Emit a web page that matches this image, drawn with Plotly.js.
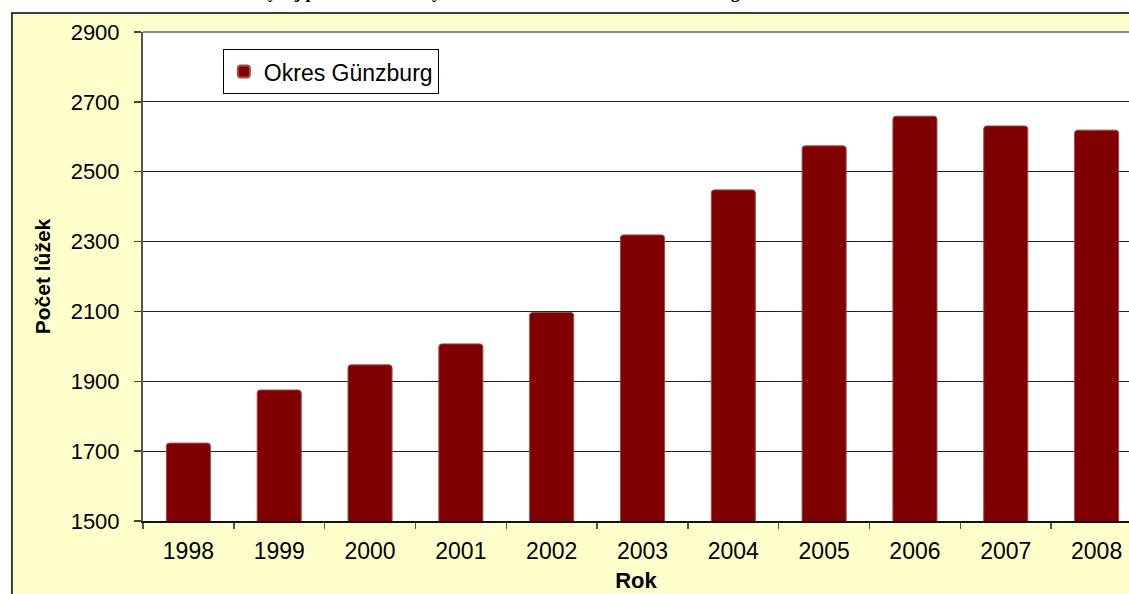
<!DOCTYPE html>
<html>
<head>
<meta charset="utf-8">
<script src="https://cdn.plot.ly/plotly-3.0.1.min.js"></script>
<style>html,body{margin:0;padding:0;background:#fff;}#chart{width:1129px;height:594px;}</style>
</head>
<body>
<div id="chart"></div>
<script>
const years = ["1998","1999","2000","2001","2002","2003","2004","2005","2006","2007","2008"];
const beds = [1723, 1875, 1947, 2007, 2097, 2319, 2448, 2574, 2659, 2631, 2619];
const seriesName = "Okres Günzburg";
const chartTitle = "Vývoj počtu lůžek v ubytovacích zařízeních v okrese Günzburg";
const xTitle = "Rok";
const yTitle = "Počet lůžek";

const FONT = "'Liberation Sans', Arial, sans-serif";

const trace = {
  type: "bar",
  x: years,
  y: beds,
  name: seriesName,
  showlegend: true,
  marker: { color: "#800000", line: { color: "#a24a4a", width: 1 }, cornerradius: 3 },
  hoverinfo: "x+y"
};

const layout = {
  width: 1129,
  height: 594,
  margin: { l: 143, r: 0, t: 32, b: 73, pad: 0 },
  paper_bgcolor: "#ffffff",
  plot_bgcolor: "rgba(0,0,0,0)",
  font: { family: FONT, color: "#000" },
  bargap: 0.515,
  showlegend: true,
  legend: {
    x: 0.081, y: 0.965, xanchor: "left", yanchor: "top",
    bgcolor: "#ffffff", bordercolor: "#000", borderwidth: 1,
    itemsizing: "constant", itemwidth: 30,
    font: { family: FONT, size: 23, color: "#000" }
  },
  xaxis: {
    type: "category",
    range: [-0.5, 10.357],
    tickson: "boundaries",
    ticks: "outside", ticklen: 6, tickcolor: "#555", tickwidth: 1.5,
    showline: true, linecolor: "#111", linewidth: 1.5,
    showgrid: false,
    tickfont: { family: FONT, size: 23, color: "#000" },
    ticklabelstandoff: 9,
    title: { text: xTitle, font: { family: FONT, size: 22, color: "#000", weight: "bold" }, standoff: 9 },
    automargin: false
  },
  yaxis: {
    range: [1500, 2900],
    tick0: 1500,
    dtick: 200,
    ticks: "outside", ticklen: 7, tickcolor: "#444", tickwidth: 1.5,
    showline: true, linecolor: "#555", linewidth: 2,
    showgrid: true, gridcolor: "#222", gridwidth: 1,
    zeroline: false,
    tickfont: { family: FONT, size: 22, color: "#000" },
    ticklabelstandoff: 10,
    title: { text: yTitle, font: { family: FONT, size: 21, color: "#000", weight: "bold" }, standoff: 14 },
    automargin: false
  },
  shapes: [
    { type: "rect", xref: "paper", yref: "paper", layer: "below",
      x0: -0.1329, x1: 1.1, y0: -0.3, y1: 1.0389,
      fillcolor: "#ffffcc", line: { color: "#000", width: 1.5 } },
    { type: "rect", xref: "paper", yref: "paper", layer: "below",
      x0: 0, x1: 1, y0: 0, y1: 1,
      fillcolor: "#ffffff", line: { width: 0 } },
    { type: "line", xref: "paper", yref: "paper", layer: "above",
      x0: 0, x1: 1.01, y0: 1, y1: 1,
      line: { color: "#8a8a8a", width: 2 } }
  ],
  annotations: [
    { text: "<b>" + chartTitle + "</b>", xref: "paper", yref: "paper",
      x: 0.36, y: 1, xanchor: "center", yanchor: "bottom", yshift: 28,
      showarrow: false, font: { family: "'Liberation Serif', 'Times New Roman', serif", size: 18, color: "#000" } }
  ]
};

Plotly.newPlot("chart", [trace], layout, { displayModeBar: false, staticPlot: true });
</script>
</body>
</html>
